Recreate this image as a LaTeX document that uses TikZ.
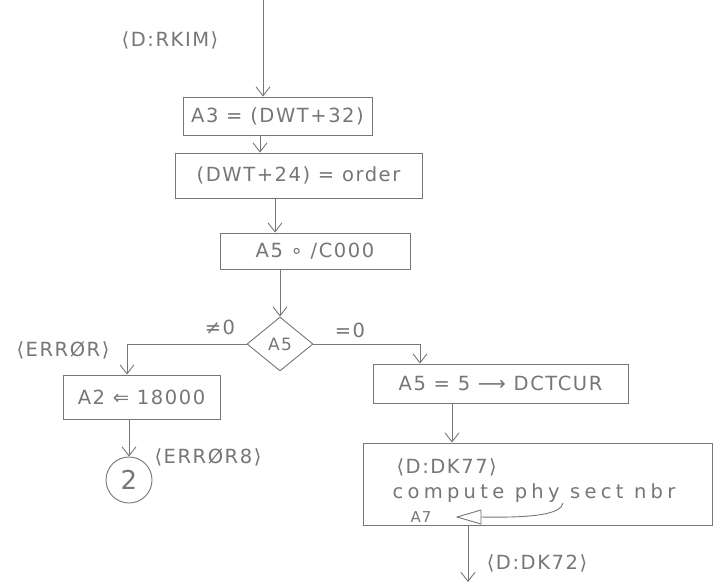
\documentclass[tikz,border=0pt]{standalone}
\usepackage{fontspec}
\setmainfont{DejaVu Sans}[LetterSpace=8]
\usetikzlibrary{arrows.meta,shapes.geometric}
\definecolor{pencil}{RGB}{118,118,118}
\begin{document}
\begin{tikzpicture}[x=1pt,y=-1pt,
  pen/.style={draw=pencil,line width=0.9pt},
  flow/.style={pen,-{Straight Barb[length=9pt,width=14pt]}},
  txt/.style={text=pencil,font=\fontsize{19.5}{22}\selectfont},
  stepbox/.style={pen,txt,rectangle,inner sep=0pt},
]
\useasboundingbox (0,0) rectangle (714,584);
\fill[white] (0,0) rectangle (714,584);

% process boxes
\node[stepbox,minimum width=189pt,minimum height=38pt] (a3)  at (277.5,116) {A3 = (DWT+32)};
\node[stepbox,minimum width=247pt,minimum height=45pt] (ord) at (298.5,175.5) {(DWT+24) = order};
\node[stepbox,minimum width=190pt,minimum height=36pt] (msk) at (315,251) {A5 ∘ /C000};
\node[pen,txt,diamond,inner sep=0pt,minimum width=66pt,minimum height=54pt] (dec) at (280,344) {\fontsize{17}{19}\selectfont A5};
\node[stepbox,minimum width=157pt,minimum height=44pt] (a2)  at (141.5,397) {A2 ⇐ 18000};
\node[pen,txt,circle,inner sep=0pt,minimum size=46pt] (con) at (129,480) {\fontsize{26}{28}\selectfont 2};
\node[stepbox,minimum width=255pt,minimum height=39pt] (dct) at (500.5,383.5) {A5 = 5 ⟶ DCTCUR};
\node[stepbox,minimum width=349pt,minimum height=82pt] (dk)  at (537.5,484) {};

% contents of the sector box
\node[txt,anchor=west] (dkname) at (393,467) {⟨D:DK77⟩};
\node[txt,anchor=west] (dkcomp) at (389,493) {\addfontfeatures{LetterSpace=22}compute phy sect nbr};
\node[txt,font=\fontsize{15}{17}\selectfont] (a7) at (421,517) {A7};
\draw[pen] (457,517) -- (481,510) -- (481,524) -- cycle;
\draw[pen] (563,503) .. controls (561,514) and (535,518) .. (481,517);

% entry / exit points
\coordinate (tin) at (263,0);
\coordinate (rj) at (420,0);
\coordinate (tout) at (468,582);

% connectors
\draw[flow] (tin) -- (tin |- a3.north);
\draw[flow] ([xshift=-17.5pt]a3.south) -- ([xshift=-17.5pt]a3.south |- ord.north);
\draw[flow] ([xshift=-23.5pt]ord.south) -- ([xshift=-23.5pt]ord.south |- msk.north);
\draw[flow] (msk.south -| dec.north) -- (dec.north);
\draw[flow] (dec.west) -| ([xshift=-14.5pt]a2.north);
\draw[flow] (dec.east) -| (rj |- dct.north);
\draw[flow] (a2.south -| con.north) -- (con.north);
\draw[flow] ([xshift=-48.5pt]dct.south) -- ([xshift=-48.5pt]dct.south |- dk.north);
\draw[flow] (dk.south -| tout) -- (tout);

% labels
\node[txt] (lrkim) at (170,40) {⟨D:RKIM⟩};
\node[txt] (lne) at (220,327) {≠0};
\node[txt] (leq) at (350,330) {=0};
\node[txt] (lerr) at (63,350) {⟨ERRØR⟩};
\node[txt] (lerr8) at (208,457) {⟨ERRØR8⟩};
\node[txt] (ldk72) at (537,563) {⟨D:DK72⟩};
\end{tikzpicture}
\end{document}
